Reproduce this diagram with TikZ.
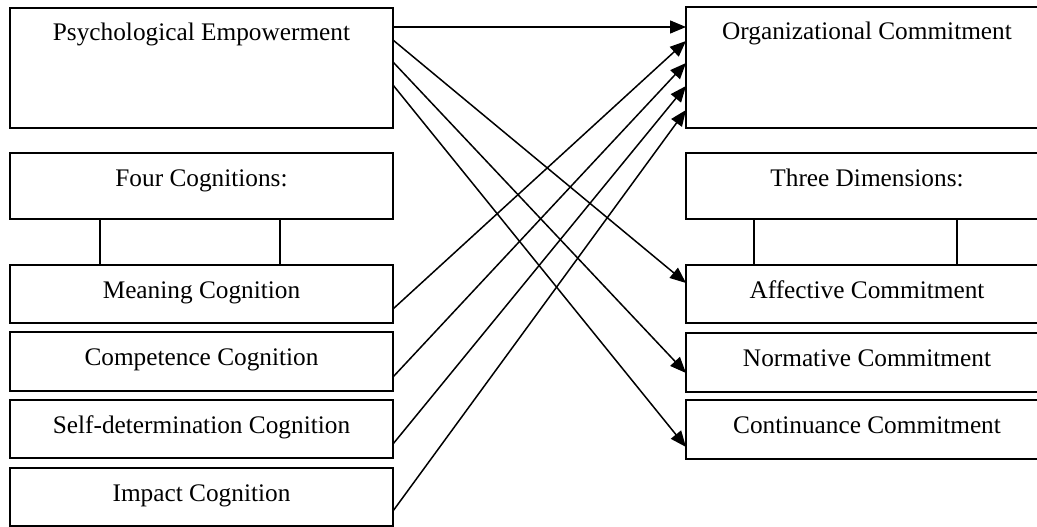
\documentclass[tikz,border=0pt]{standalone}
\usepackage{fontspec}
\setmainfont{Liberation Serif}
\usetikzlibrary{arrows.meta}
\begin{document}
\begin{tikzpicture}[x=1pt,y=-1pt,
  box/.style={draw,line width=1.9pt,inner sep=0pt,outer sep=0pt,anchor=north west,minimum height=#1},
  lbox/.style={box=#1,minimum width=383pt},
  rbox/.style={box=#1,minimum width=362pt},
  txt/.style={label={[anchor=base,yshift=-33pt,inner sep=0pt,font=\fontsize{25.3}{30}\selectfont]north:#1}},
  arr/.style={line width=1.5pt,-{Triangle[length=16pt,width=13pt]}},
  link/.style={line width=1.5pt}]
\useasboundingbox (0,0) rectangle (1037,527);
\begin{scope}
\clip (0,0) rectangle (1037,527);
% left column
\node[lbox=120pt,txt={Psychological Empowerment}] (pe) at (10,8) {};
\node[lbox=66pt,txt={Four Cognitions:}] (fc) at (10,153) {};
\node[lbox=58pt,txt={Meaning Cognition}] (mea) at (10,265) {};
\node[lbox=59pt,txt={Competence Cognition}] (com) at (10,332) {};
\node[lbox=58pt,txt={Self-determination Cognition}] (sel) at (10,400) {};
\node[lbox=58pt,txt={Impact Cognition}] (imp) at (10,468) {};
% right column
\node[rbox=121pt,txt={Organizational Commitment}] (oc) at (686,7) {};
\node[rbox=66pt,txt={Three Dimensions:}] (td) at (686,153) {};
\node[rbox=58pt,txt={Affective Commitment}] (aff) at (686,265) {};
\node[rbox=59pt,txt={Normative Commitment}] (nor) at (686,333) {};
\node[rbox=59pt,txt={Continuance Commitment}] (con) at (686,400) {};
\end{scope}
% vertical links
\draw[link] (fc.south -| 100,0) -- (mea.north -| 100,0);
\draw[link] (fc.south -| 280,0) -- (mea.north -| 280,0);
\draw[link] (td.south -| 754,0) -- (aff.north -| 754,0);
\draw[link] (td.south -| 957,0) -- (aff.north -| 957,0);
% arrows from Psychological Empowerment
\draw[arr] (pe.east |- 0,27) -- (oc.west |- 0,27);
\draw[arr] (pe.east |- 0,40) -- (aff.west |- 0,283);
\draw[arr] (pe.east |- 0,62) -- (nor.west |- 0,373);
\draw[arr] (pe.east |- 0,85) -- (con.west |- 0,447);
% arrows from the four cognitions
\draw[arr] (mea.east |- 0,309) -- (oc.west |- 0,41);
\draw[arr] (com.east |- 0,377) -- (oc.west |- 0,63);
\draw[arr] (sel.east |- 0,444) -- (oc.west |- 0,86);
\draw[arr] (imp.east |- 0,511) -- (oc.west |- 0,110);
\end{tikzpicture}
\end{document}
